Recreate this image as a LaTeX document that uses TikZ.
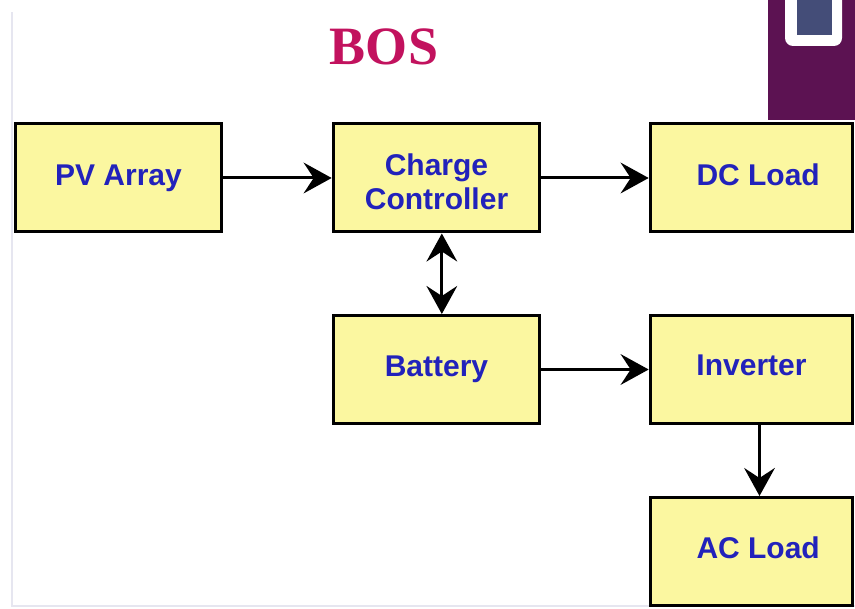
\documentclass[tikz,border=0pt]{standalone}
\usepackage{fontspec}
\setmainfont{Liberation Serif}
\newfontfamily\boxfont{Liberation Sans}
\usetikzlibrary{arrows.meta}
\definecolor{boxfill}{HTML}{FBF7A0}
\definecolor{boxtext}{HTML}{2222BB}
\definecolor{titlecol}{HTML}{C2125E}
\definecolor{purp}{HTML}{5C1252}
\definecolor{slate}{HTML}{444D78}
\definecolor{framecol}{HTML}{E6E6F0}
\newcommand{\lbl}[3][0pt]{\hspace*{#1}\raisebox{#2}[0pt][0pt]{#3}}
\tikzset{
  block/.style={draw=black, line width=2.25pt, fill=boxfill, minimum width=155pt, minimum height=81pt,
    align=center, font=\boxfont\bfseries\fontsize{22.5pt}{25pt}\selectfont, text=boxtext, inner sep=0pt},
  rblock/.style={block, minimum width=152pt},
  conn/.style={line width=2.25pt, -{Stealth[length=21pt,width=23pt,inset=7.5pt]}},
  biconn/.style={line width=2.25pt, {Stealth[length=21pt,width=23pt,inset=7.5pt]}-{Stealth[length=21pt,width=23pt,inset=7.5pt]}}
}
\begin{document}
\begin{tikzpicture}[x=0.75pt,y=-0.75pt]
\useasboundingbox (0,0) rectangle (855,609);
% faint card frame
\draw[framecol, line width=1.2pt] (12,12) -- (12,606) -- (855,606);
% top-right screen artefact
\fill[purp] (768,0) rectangle (855,120);
\fill[white, rounded corners=6pt] (785,-10) rectangle (842,46);
\fill[slate] (797,0) rectangle (832,35);
% title
\node[text=titlecol, font=\bfseries\fontsize{40.5pt}{44pt}\selectfont] (title) at (384,47) {BOS};
% blocks
\node[block] (pv) at (118.5,178) {\lbl{-5.8pt}{PV Array}};
\node[block] (cc) at (436.5,178) {\lbl{1.7pt}{\begin{tabular}[t]{@{}c@{}}Charge\\Controller\end{tabular}}};
\node[rblock] (dc) at (751.5,178) {\lbl[10pt]{-5.8pt}{DC Load}};
\node[block] (bat) at (436.5,369.5) {\lbl{-5.4pt}{Battery}};
\node[rblock] (inv) at (751.5,369.5) {\lbl{-4.7pt}{Inverter}};
\node[rblock] (ac) at (751.5,551.5) {\lbl[10pt]{-5.4pt}{AC Load}};
% connectors
\draw[conn] (pv) -- (cc);
\draw[conn] (cc) -- (dc);
\draw[biconn] ([xshift=4pt]cc.south) -- ([xshift=4pt]bat.north);
\draw[conn] (bat) -- (inv);
\draw[conn] ([xshift=6pt]inv.south) -- ([xshift=6pt]ac.north);
\end{tikzpicture}
\end{document}
